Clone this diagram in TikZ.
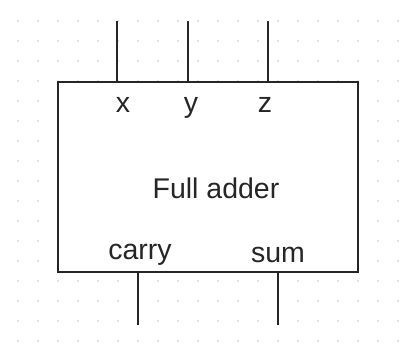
\documentclass[tikz,border=0pt]{standalone}
\usepackage{fontspec}
\setmainfont{Liberation Sans}
\newfontfamily\pinfont{Liberation Sans}
\begin{document}
\begin{tikzpicture}[x=1pt, y=-1pt,
  blk/.style={rectangle, draw=black!85, line width=1.6pt, fill=white,
              minimum width=300pt, minimum height=190pt, inner sep=0pt},
  wire/.style={draw=black!85, line width=1.6pt},
  pin/.style={font=\pinfont\fontsize{28.5}{32}\selectfont, anchor=base,
              inner sep=0pt, text=black!85},
  griddot/.style={fill=gray!45}
]
  \useasboundingbox (0,0) rectangle (414,343);
  % Grid
  \foreach \gx in {0,...,19} {
    \foreach \gy in {0,...,16} {
      \fill[griddot] (18+20*\gx, 21+20*\gy) circle (0.8pt);
    }
  }
  % Block
  \node[blk] (fa) at (208,177) {};
  \node[pin] (name) at (216,198) {Full adder};
  % Inputs
  \foreach \nm/\px/\lx in {x/117/123, y/188/191, z/268/265} {
    \coordinate (in\nm) at (\px,21);
    \draw[wire] (in\nm) -- (in\nm |- fa.north);
    \node[pin] (lbl\nm) at (\lx,112) {\nm};
  }
  % Outputs
  \foreach \nm/\px/\lx/\ly in {carry/138/140/259, sum/278/278/262} {
    \coordinate (out\nm) at (\px,325);
    \draw[wire] (out\nm |- fa.south) -- (out\nm);
    \node[pin] (lbl\nm) at (\lx,\ly) {\nm};
  }
\end{tikzpicture}
\end{document}
